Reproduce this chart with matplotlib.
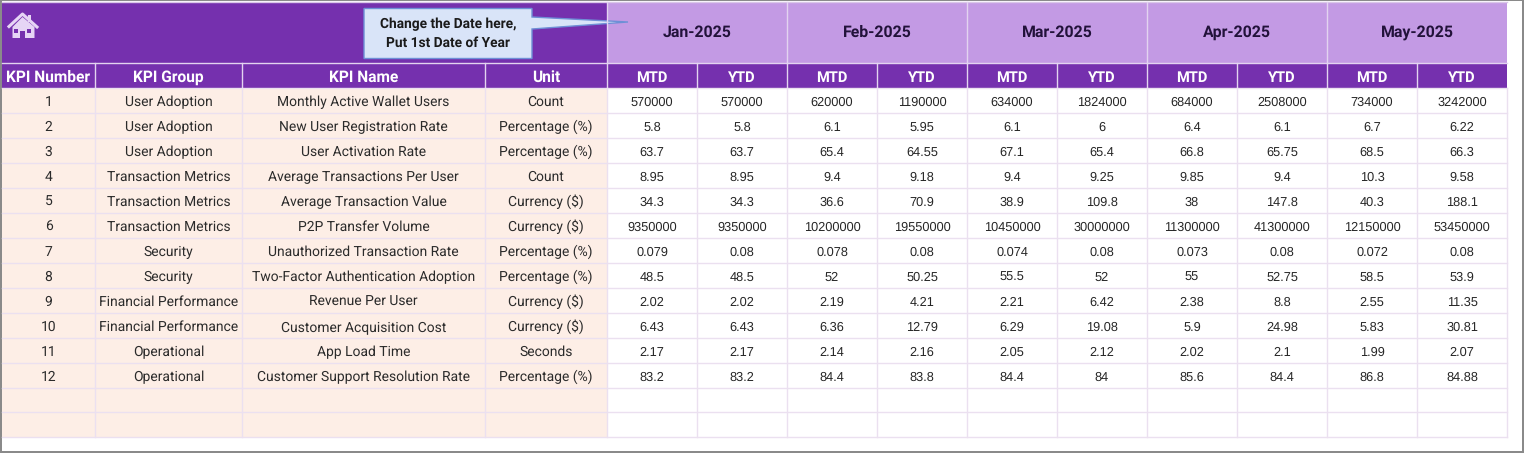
import matplotlib
matplotlib.use("Agg")
import matplotlib.pyplot as plt
from matplotlib.patches import Rectangle, Polygon

plt.rcParams["text.hinting"] = "no_hinting"

#table text
kpi_numbers = ["1", "2", "3", "4", "5", "6", "7", "8", "9", "10", "11", "12", "", ""]
kpi_groups = ["User Adoption", "User Adoption", "User Adoption", "Transaction Metrics", "Transaction Metrics",
              "Transaction Metrics", "Security", "Security", "Financial Performance", "Financial Performance",
              "Operational", "Operational", "", ""]
kpi_names = ["Monthly Active Wallet Users", "New User Registration Rate", "User Activation Rate",
             "Average Transactions Per User", "Average Transaction Value", "P2P Transfer Volume",
             "Unauthorized Transaction Rate", "Two-Factor Authentication Adoption", "Revenue Per User",
             "Customer Acquisition Cost", "App Load Time", "Customer Support Resolution Rate", "", ""]
units = ["Count", "Percentage (%)", "Percentage (%)", "Count", "Currency ($)", "Currency ($)", "Percentage (%)",
         "Percentage (%)", "Currency ($)", "Currency ($)", "Seconds", "Percentage (%)", "", ""]
left_headers = ["KPI Number", "KPI Group", "KPI Name", "Unit"]
months = ["Jan-2025", "Feb-2025", "Mar-2025", "Apr-2025", "May-2025"]

#values, kept as text so they print like the sheet
jan_mtd = ["570000", "5.8", "63.7", "8.95", "34.3", "9350000", "0.079", "48.5", "2.02", "6.43", "2.17", "83.2", "", ""]
jan_ytd = ["570000", "5.8", "63.7", "8.95", "34.3", "9350000", "0.08", "48.5", "2.02", "6.43", "2.17", "83.2", "", ""]
feb_mtd = ["620000", "6.1", "65.4", "9.4", "36.6", "10200000", "0.078", "52", "2.19", "6.36", "2.14", "84.4", "", ""]
feb_ytd = ["1190000", "5.95", "64.55", "9.18", "70.9", "19550000", "0.08", "50.25", "4.21", "12.79", "2.16", "83.8", "", ""]
mar_mtd = ["634000", "6.1", "67.1", "9.4", "38.9", "10450000", "0.074", "55.5", "2.21", "6.29", "2.05", "84.4", "", ""]
mar_ytd = ["1824000", "6", "65.4", "9.25", "109.8", "30000000", "0.08", "52", "6.42", "19.08", "2.12", "84", "", ""]
apr_mtd = ["684000", "6.4", "66.8", "9.85", "38", "11300000", "0.073", "55", "2.38", "5.9", "2.02", "85.6", "", ""]
apr_ytd = ["2508000", "6.1", "65.75", "9.4", "147.8", "41300000", "0.08", "52.75", "8.8", "24.98", "2.1", "84.4", "", ""]
may_mtd = ["734000", "6.7", "68.5", "10.3", "40.3", "12150000", "0.072", "58.5", "2.55", "5.83", "1.99", "86.8", "", ""]
may_ytd = ["3242000", "6.22", "66.3", "9.58", "188.1", "53450000", "0.08", "53.9", "11.35", "30.81", "2.07", "84.88", "", ""]

left_cols = [kpi_numbers, kpi_groups, kpi_names, units]
value_cols = [jan_mtd, jan_ytd, feb_mtd, feb_ytd, mar_mtd, mar_ytd, apr_mtd, apr_ytd, may_mtd, may_ytd]

#sheet layout in pixels
col_edges = [2, 95, 242, 485, 607, 697, 787, 877, 967, 1057, 1147, 1237, 1327, 1417, 1507]
row_edges = [88, 113, 138, 163, 188, 213, 238, 263, 288, 313, 338, 363, 388, 412, 436.5]

purple = "#7530AE"
lilac = "#C39AE4"
peach = "#FDEEE6"
grid = "#EBE0F0"
left_font = ["Roboto", "DejaVu Sans"]
num_font = ["Liberation Sans", "DejaVu Sans"]

fig = plt.figure(figsize=(15.24, 4.53), dpi=100)
ax = fig.add_axes([0, 0, 1, 1])
ax.set_xlim(0, 1524)
ax.set_ylim(453, 0)
ax.axis("off")


def box(x0, y0, x1, y1, fc, ec="none", lw=0.8):
    ax.add_patch(Rectangle((x0, y0), x1 - x0, y1 - y0, facecolor=fc, edgecolor=ec, linewidth=lw))


#top band
box(2, 2, 607, 63, purple)
box(607, 2, 1507, 63, lilac)
ax.plot([2, 1507], [1.5, 1.5], color="#D9C6E8", lw=1)
for m in range(len(months)):
    x0 = col_edges[4 + m * 2]
    x1 = col_edges[6 + m * 2]
    ax.plot([x0, x0], [2, 63], color="#E3D3F0", lw=1)
    ax.text((x0 + x1) / 2, 37, months[m], ha="center", va="baseline", fontsize=11.4, fontweight="bold",
            family=left_font, color="#22123A")

#header row
box(2, 63, 1507, 88, purple)
ax.plot([2, 1507], [63, 63], color="#E3D3F0", lw=1)
for i in range(14):
    x0 = col_edges[i]
    x1 = col_edges[i + 1]
    if i > 0:
        ax.plot([x0, x0], [63, 88], color="#E3D3F0", lw=1)
    if i < 4:
        label = left_headers[i]
        size = 11.2
    else:
        label = "MTD" if i % 2 == 0 else "YTD"
        size = 10.5
    ax.text((x0 + x1) / 2, 81.5, label, ha="center", va="baseline", fontsize=size, fontweight="bold",
            family=left_font, color="white")

#body
box(2, 88, 607, row_edges[-1], peach)
for y in row_edges:
    ax.plot([2, 1507], [y, y], color=grid, lw=1)
for x in col_edges[1:]:
    ax.plot([x, x], [88, row_edges[-1]], color=grid, lw=1)

for r in range(len(kpi_numbers)):
    y = row_edges[r] + 18
    for c in range(len(left_cols)):
        ax.text((col_edges[c] + col_edges[c + 1]) / 2, y, left_cols[c][r], ha="center", va="baseline",
                fontsize=10, family=left_font, color="#2B2B2B")
    for c in range(len(value_cols)):
        ax.text((col_edges[c + 4] + col_edges[c + 5]) / 2, y - 0.5, value_cols[c][r], ha="center", va="baseline",
                fontsize=9.2, family=num_font, color="#262626")

#callout
ax.add_patch(Polygon([(364, 8.5), (532, 8.5), (532, 17), (628, 22), (532, 29), (532, 58.5), (364, 58.5)],
                     closed=True, facecolor="#D9E4F8", edgecolor="#6E8FD6", linewidth=1))
ax.text(448, 28.5, "Change the Date here,", ha="center", va="baseline", fontsize=9.9, fontweight="bold",
        family=left_font, color="#1A1A1A")
ax.text(448, 46.5, "Put 1st Date of Year", ha="center", va="baseline", fontsize=9.9, fontweight="bold",
        family=left_font, color="#1A1A1A")

#house icon
icon = "#E6D5F5"
ax.add_patch(Polygon([(12.5, 38), (12.5, 27), (22.5, 17), (34.5, 27), (34.5, 38)],
                     closed=True, facecolor=icon, edgecolor="none"))
ax.plot([9, 22.5, 37], [26.5, 14, 27], color=icon, lw=2.2)
box(28, 15, 31, 22, icon)
box(14, 29, 18, 33, purple)
box(27, 29, 31, 33, purple)
box(20, 31, 24.5, 38.5, purple)

#window edge
box(0, 0, 1524, 1, "#8A8A8A")
box(0, 0, 1.5, 453, "#8A8A8A")
box(1522, 0, 1524, 453, "#8A8A8A")
box(0, 451, 1524, 453, "#8A8A8A")

fig.savefig("out.png", dpi=100)
